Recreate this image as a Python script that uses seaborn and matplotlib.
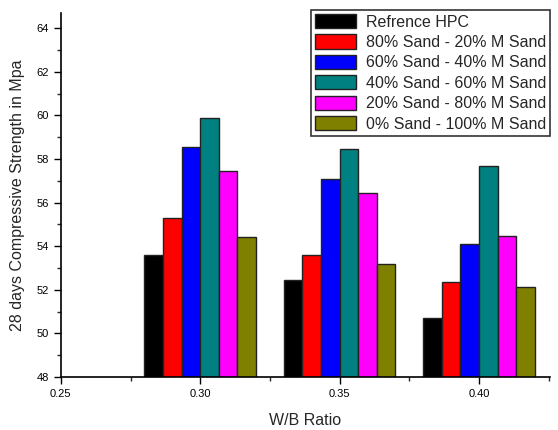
import matplotlib
matplotlib.use("Agg")
import matplotlib.pyplot as plt
import seaborn as sns
import pandas as pd
from matplotlib.ticker import MultipleLocator

wb_ratio = [0.30, 0.35, 0.40]
series = ["Refrence HPC", "80% Sand - 20% M Sand", "60% Sand - 40% M Sand",
          "40% Sand - 60% M Sand", "20% Sand - 80% M Sand", "0% Sand - 100% M Sand"]
ref_hpc = [53.6, 52.45, 50.7]
s80_20 = [55.28, 53.6, 52.34]
s60_40 = [58.55, 57.1, 54.1]
s40_60 = [59.9, 58.44, 57.68]
s20_80 = [57.45, 56.44, 54.47]
s0_100 = [54.41, 53.18, 52.11]
colors = ["#000000", "#ff0000", "#0000ff", "#008080", "#ff00ff", "#808000"]

values = [ref_hpc, s80_20, s60_40, s40_60, s20_80, s0_100]
rows = []
for name, vals in zip(series, values):
    for x, v in zip(wb_ratio, vals):
        rows.append({"W/B": x, "Mix": name, "Strength": v})
df = pd.DataFrame(rows)

sns.set_style("ticks")
plt.rcParams['font.family'] = ['Liberation Sans', 'DejaVu Sans']

fig = plt.figure(figsize=(5.58, 4.30), dpi=100)
ax = fig.add_axes([0.109, 0.123, 0.877, 0.847])
sns.barplot(data=df, x="W/B", y="Strength", hue="Mix", hue_order=series,
            palette=colors, saturation=1, native_scale=True, width=0.8, ax=ax,
            edgecolor="#222222", linewidth=1.0, errorbar=None, legend=True)

ax.set_xlim(0.25, 0.4255)
ax.set_ylim(48, 64.7)
ax.xaxis.set_major_locator(MultipleLocator(0.05))
ax.xaxis.set_minor_locator(MultipleLocator(0.025))
ax.yaxis.set_major_locator(MultipleLocator(2))
ax.yaxis.set_minor_locator(MultipleLocator(1))
ax.set_xticks([0.25, 0.30, 0.35, 0.40])
ax.set_xticklabels(["0.25", "0.30", "0.35", "0.40"])
ax.tick_params(axis="both", which="major", direction="out", length=5, width=1,
               labelsize=8, colors="black")
ax.tick_params(axis="both", which="minor", direction="out", length=3, width=1)
for s in ["left", "bottom"]:
    ax.spines[s].set_linewidth(1.2)
    ax.spines[s].set_color("black")
ax.spines["top"].set_visible(False)
ax.spines["right"].set_visible(False)

ax.set_xlabel("W/B Ratio", fontsize=11.5, labelpad=10)
ax.set_ylabel("28 days Compressive Strength in Mpa", fontsize=11.5, labelpad=8)

handles, labels = ax.get_legend_handles_labels()
ax.legend(handles, labels, loc="upper left", bbox_to_anchor=(0.557, 0.977),
          bbox_transform=fig.transFigure, frameon=True, fancybox=False,
          edgecolor="black", fontsize=11.5, handlelength=2.6, handleheight=1.0,
          labelspacing=0.3, borderpad=0.25, handletextpad=0.6, borderaxespad=0)
ax.get_legend().get_frame().set_linewidth(1.2)

fig.savefig("out.png", dpi=100)
